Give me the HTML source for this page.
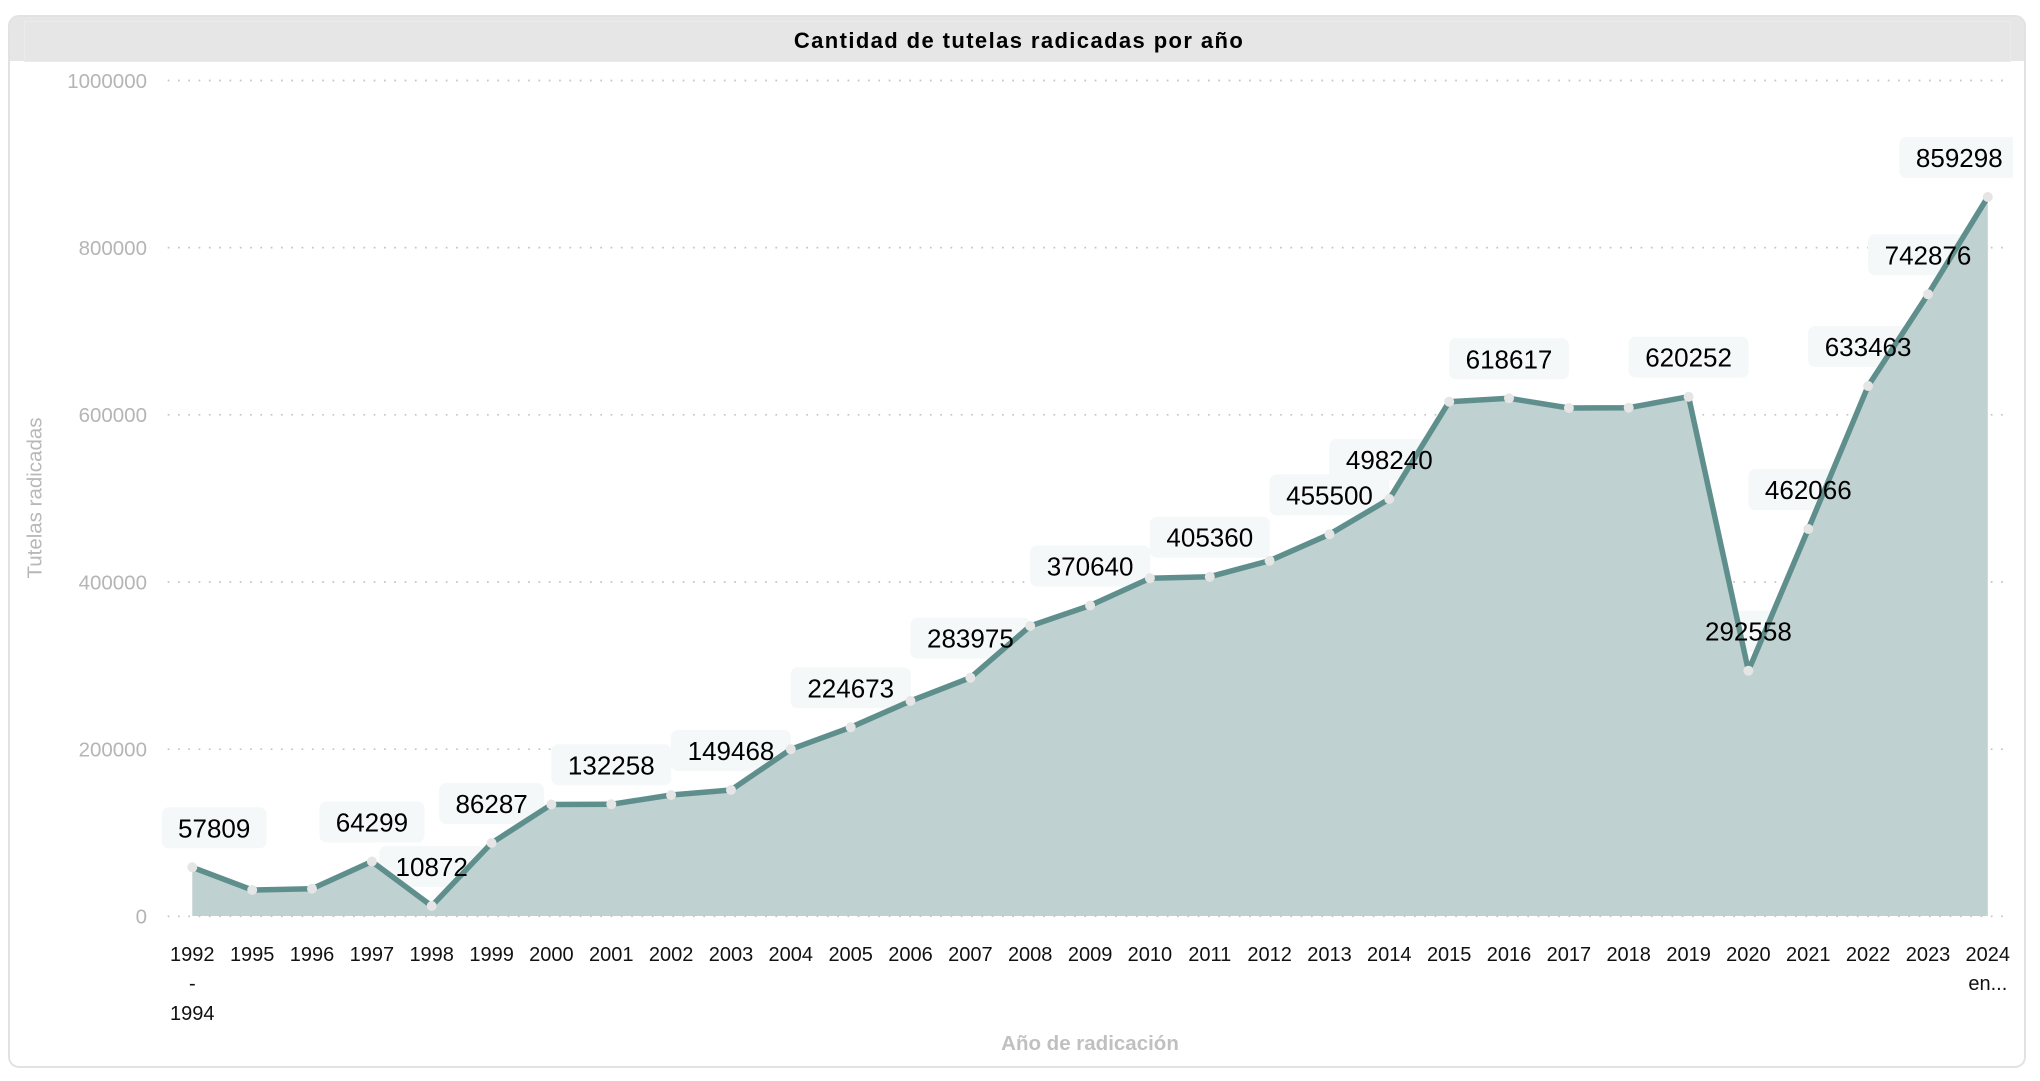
<!DOCTYPE html>
<html>
<head>
<meta charset="utf-8">
<style>
  html,body{margin:0;padding:0;background:#ffffff;}
  body{width:2040px;height:1081px;overflow:hidden;}
  svg{display:block;}
  text{font-family:"Liberation Sans", "DejaVu Sans", sans-serif;}
</style>
</head>
<body>
<svg width="2040" height="1081" viewBox="0 0 2040 1081" xmlns="http://www.w3.org/2000/svg">
  <defs>
    <clipPath id="plotclip"><rect x="150" y="62" width="1863" height="900"/></clipPath>
  </defs>

  <!-- container -->
  <rect x="9" y="16" width="2016" height="1051" rx="10" ry="10" fill="#ffffff" stroke="#e2e2e2" stroke-width="2"/>
  <!-- header -->
  <path d="M10,61 L10,26 Q10,17 19,17 L2015,17 Q2024,17 2024,26 L2024,61 Z" fill="#e6e6e6"/>
  <rect x="24.5" y="21.5" width="1986" height="40" fill="none" stroke="#ebebeb" stroke-width="1"/>
  <text x="1019" y="48" text-anchor="middle" font-size="22" font-weight="bold" letter-spacing="1.4" fill="#000000">Cantidad de tutelas radicadas por año</text>

  <!-- gridlines -->
  <g stroke="#c4c4c4" stroke-width="1.7" stroke-dasharray="1.7 8.6" fill="none">
    <line x1="167.7" y1="80.5" x2="2009" y2="80.5"/>
    <line x1="167.7" y1="247.6" x2="2009" y2="247.6"/>
    <line x1="167.7" y1="414.8" x2="2009" y2="414.8"/>
    <line x1="167.7" y1="582" x2="2009" y2="582"/>
    <line x1="167.7" y1="749.2" x2="2009" y2="749.2"/>
  </g>

  <!-- y tick labels -->
  <g font-size="20.5" fill="#b5b5b5" text-anchor="end">
    <text x="147" y="87.8">1000000</text>
    <text x="147" y="254.9">800000</text>
    <text x="147" y="422.1">600000</text>
    <text x="147" y="589.3">400000</text>
    <text x="147" y="756.5">200000</text>
    <text x="147" y="923.7">0</text>
  </g>

  <!-- label boxes (behind area) -->
  <g clip-path="url(#plotclip)" fill="#f4f8f8">
    <rect x="161.7" y="807.3" width="105" height="41" rx="7"/>
    <rect x="319.4" y="801.5" width="105" height="41" rx="7"/>
    <rect x="379.2" y="846" width="105" height="41" rx="7"/>
    <rect x="439.1" y="783" width="105" height="41" rx="7"/>
    <rect x="551.3" y="744.3" width="120" height="41" rx="7"/>
    <rect x="671" y="730" width="120" height="41" rx="7"/>
    <rect x="790.7" y="667.3" width="120" height="41" rx="7"/>
    <rect x="910.4" y="617.7" width="120" height="41" rx="7"/>
    <rect x="1030.1" y="545.5" width="120" height="41" rx="7"/>
    <rect x="1149.8" y="516.7" width="120" height="41" rx="7"/>
    <rect x="1269.5" y="474.3" width="120" height="41" rx="7"/>
    <rect x="1329.3" y="439" width="120" height="41" rx="7"/>
    <rect x="1449" y="338.3" width="120" height="41" rx="7"/>
    <rect x="1628.6" y="336.7" width="120" height="41" rx="7"/>
    <rect x="1688.4" y="610.7" width="120" height="41" rx="7"/>
    <rect x="1748.3" y="469" width="120" height="41" rx="7"/>
    <rect x="1808.1" y="326" width="120" height="41" rx="7"/>
    <rect x="1868" y="234.3" width="120" height="41" rx="7"/>
    <rect x="1899.3" y="137" width="120" height="41" rx="7"/>
  </g>

  <!-- area -->
  <path fill="#bfd1d0" d="M192.3,916 L192.3,867.3 L252.2,890 L312,888.7 L371.9,861.5 L431.7,906 L491.6,843 L551.4,804.5 L611.3,804.3 L671.1,795 L731,790 L790.8,749.3 L850.7,727.3 L910.5,701 L970.4,677.7 L1030.2,626 L1090.1,605.5 L1149.9,578.3 L1209.8,576.7 L1269.6,560.7 L1329.5,534.3 L1389.3,499 L1449.2,401.7 L1509,398.3 L1568.9,408 L1628.7,407.7 L1688.6,396.7 L1748.4,670.7 L1808.3,529 L1868.1,386 L1928,294.3 L1987.8,197 L1987.8,916 Z"/>

  <!-- zero line (dotted) -->
  <line x1="167.7" y1="916.3" x2="2009" y2="916.3" stroke="#c4c4c4" stroke-width="1.7" stroke-dasharray="1.7 8.6"/>

  <!-- line -->
  <polyline fill="none" stroke="#5f8f8c" stroke-width="5.5" stroke-linejoin="round" stroke-linecap="round" points="192.3,867.3 252.2,890 312,888.7 371.9,861.5 431.7,906 491.6,843 551.4,804.5 611.3,804.3 671.1,795 731,790 790.8,749.3 850.7,727.3 910.5,701 970.4,677.7 1030.2,626 1090.1,605.5 1149.9,578.3 1209.8,576.7 1269.6,560.7 1329.5,534.3 1389.3,499 1449.2,401.7 1509,398.3 1568.9,408 1628.7,407.7 1688.6,396.7 1748.4,670.7 1808.3,529 1868.1,386 1928,294.3 1987.8,197"/>

  <!-- markers -->
  <g fill="#e5e5e5">
    <circle cx="192.3" cy="867.3" r="5"/><circle cx="252.2" cy="890" r="5"/><circle cx="312" cy="888.7" r="5"/>
    <circle cx="371.9" cy="861.5" r="5"/><circle cx="431.7" cy="906" r="5"/><circle cx="491.6" cy="843" r="5"/>
    <circle cx="551.4" cy="804.5" r="5"/><circle cx="611.3" cy="804.3" r="5"/><circle cx="671.1" cy="795" r="5"/>
    <circle cx="731" cy="790" r="5"/><circle cx="790.8" cy="749.3" r="5"/><circle cx="850.7" cy="727.3" r="5"/>
    <circle cx="910.5" cy="701" r="5"/><circle cx="970.4" cy="677.7" r="5"/><circle cx="1030.2" cy="626" r="5"/>
    <circle cx="1090.1" cy="605.5" r="5"/><circle cx="1149.9" cy="578.3" r="5"/><circle cx="1209.8" cy="576.7" r="5"/>
    <circle cx="1269.6" cy="560.7" r="5"/><circle cx="1329.5" cy="534.3" r="5"/><circle cx="1389.3" cy="499" r="5"/>
    <circle cx="1449.2" cy="401.7" r="5"/><circle cx="1509" cy="398.3" r="5"/><circle cx="1568.9" cy="408" r="5"/>
    <circle cx="1628.7" cy="407.7" r="5"/><circle cx="1688.6" cy="396.7" r="5"/><circle cx="1748.4" cy="670.7" r="5"/>
    <circle cx="1808.3" cy="529" r="5"/><circle cx="1868.1" cy="386" r="5"/><circle cx="1928" cy="294.3" r="5"/>
    <circle cx="1987.8" cy="197" r="5"/>
  </g>

  <!-- data labels -->
  <g font-size="26" fill="#000000" text-anchor="middle">
    <text x="214.2" y="837.3">57809</text>
    <text x="371.9" y="831.5">64299</text>
    <text x="431.7" y="876">10872</text>
    <text x="491.6" y="813">86287</text>
    <text x="611.3" y="774.3">132258</text>
    <text x="731" y="760">149468</text>
    <text x="850.7" y="697.3">224673</text>
    <text x="970.4" y="647.7">283975</text>
    <text x="1090.1" y="575.5">370640</text>
    <text x="1209.8" y="546.7">405360</text>
    <text x="1329.5" y="504.3">455500</text>
    <text x="1389.3" y="469">498240</text>
    <text x="1509" y="368.3">618617</text>
    <text x="1688.6" y="366.7">620252</text>
    <text x="1748.4" y="640.7">292558</text>
    <text x="1808.3" y="499">462066</text>
    <text x="1868.1" y="356">633463</text>
    <text x="1928" y="264.3">742876</text>
    <text x="1959.3" y="167">859298</text>
  </g>

  <!-- x tick labels -->
  <g font-size="20" fill="#111111" text-anchor="middle">
    <text x="192.3" y="961">1992</text>
    <text x="192.3" y="990">-</text>
    <text x="192.3" y="1020">1994</text>
    <text x="252.2" y="961">1995</text>
    <text x="312" y="961">1996</text>
    <text x="371.9" y="961">1997</text>
    <text x="431.7" y="961">1998</text>
    <text x="491.6" y="961">1999</text>
    <text x="551.4" y="961">2000</text>
    <text x="611.3" y="961">2001</text>
    <text x="671.1" y="961">2002</text>
    <text x="731" y="961">2003</text>
    <text x="790.8" y="961">2004</text>
    <text x="850.7" y="961">2005</text>
    <text x="910.5" y="961">2006</text>
    <text x="970.4" y="961">2007</text>
    <text x="1030.2" y="961">2008</text>
    <text x="1090.1" y="961">2009</text>
    <text x="1149.9" y="961">2010</text>
    <text x="1209.8" y="961">2011</text>
    <text x="1269.6" y="961">2012</text>
    <text x="1329.5" y="961">2013</text>
    <text x="1389.3" y="961">2014</text>
    <text x="1449.2" y="961">2015</text>
    <text x="1509" y="961">2016</text>
    <text x="1568.9" y="961">2017</text>
    <text x="1628.7" y="961">2018</text>
    <text x="1688.6" y="961">2019</text>
    <text x="1748.4" y="961">2020</text>
    <text x="1808.3" y="961">2021</text>
    <text x="1868.1" y="961">2022</text>
    <text x="1928" y="961">2023</text>
    <text x="1987.8" y="961">2024</text>
    <text x="1987.8" y="990">en...</text>
  </g>

  <!-- axis titles -->
  <text x="1090" y="1050" text-anchor="middle" font-size="20.5" font-weight="bold" fill="#c0c0c0">Año de radicación</text>
  <text transform="translate(41.5,498) rotate(-90)" text-anchor="middle" font-size="20.5" fill="#b8b8b8">Tutelas radicadas</text>
</svg>
</body>
</html>
